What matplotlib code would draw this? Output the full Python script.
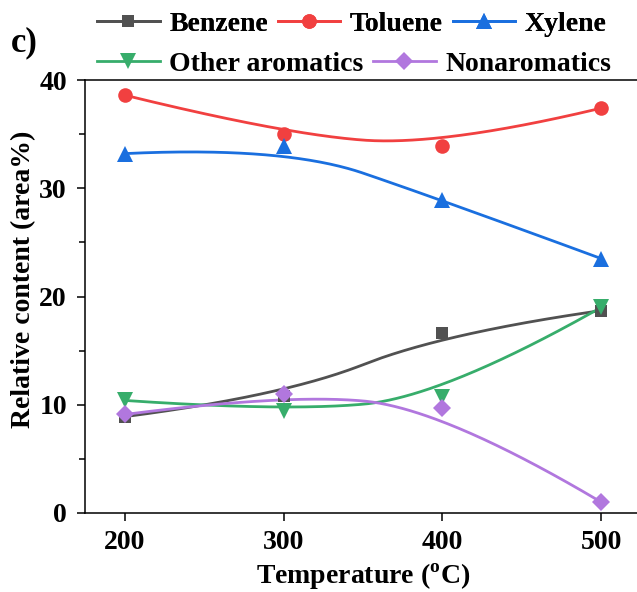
import numpy as np
import matplotlib
matplotlib.use('Agg')
import matplotlib.pyplot as plt
from matplotlib.ticker import MultipleLocator
from matplotlib.lines import Line2D

plt.rcParams['font.family'] = ['Liberation Serif', 'DejaVu Serif']
plt.rcParams['font.weight'] = 'bold'
plt.rcParams['mathtext.fontset'] = 'custom'
plt.rcParams['mathtext.rm'] = 'Liberation Serif:bold'
plt.rcParams['mathtext.bf'] = 'Liberation Serif:bold'

temperature = [200, 300, 400, 500]
benzene = [8.9, 10.8, 16.6, 18.7]
toluene = [38.6, 35.0, 33.9, 37.4]
xylene = [33.2, 33.9, 28.9, 23.5]
other_aromatics = [10.4, 9.4, 10.7, 19.0]
nonaromatics = [9.1, 11.0, 9.7, 1.0]

names = ['Benzene', 'Toluene', 'Xylene', 'Other aromatics', 'Nonaromatics']
series = [benzene, toluene, xylene, other_aromatics, nonaromatics]
colors = ['#515151', '#F14040', '#1A6FDF', '#37AD6B', '#B177DE']
markers = ['s', 'o', '^', 'v', 'D']
msizes = [9, 10.5, 11, 11, 9]


def bspline2(x, y, n=100):
    # clamped quadratic B-spline, data points used as control points
    p = np.column_stack([x, y]).astype(float)
    m = len(p)
    t = np.linspace(0, 1, n)[:, None]
    out = []
    for i in range(m - 2):
        a = p[0] if i == 0 else (p[i] + p[i + 1]) / 2
        b = p[i + 1]
        c = p[-1] if i == m - 3 else (p[i + 1] + p[i + 2]) / 2
        out.append((1 - t) ** 2 * a + 2 * t * (1 - t) * b + t ** 2 * c)
    out = np.vstack(out)
    return out[:, 0], out[:, 1]


fig = plt.figure(figsize=(6.37, 5.92), dpi=100)
ax = fig.add_axes([85 / 637, 79 / 592, 556 / 637, 433 / 592])

for vals, c, mk, ms in zip(series, colors, markers, msizes):
    sx, sy = bspline2(temperature, vals)
    ax.plot(sx, sy, color=c, lw=2.0, zorder=2)
    ax.plot(temperature, vals, ls='none', marker=mk, ms=ms, color=c,
            markeredgewidth=0, zorder=3)

ax.set_xlim(175, 525)
ax.set_ylim(0, 40)
ax.set_xticks(temperature)
ax.yaxis.set_major_locator(MultipleLocator(10))
ax.yaxis.set_minor_locator(MultipleLocator(5))
ax.tick_params(which='major', direction='out', length=6, width=1.1,
               labelsize=20)
ax.tick_params(axis='x', which='major', pad=6)
ax.tick_params(axis='y', which='major', pad=7)
ax.tick_params(which='minor', direction='out', length=4, width=1.1)
ax.tick_params(axis='x', which='minor', length=0)
for s in ax.spines.values():
    s.set_linewidth(1.1)

ax.set_xlabel(r'Temperature ($^{\mathbf{o}}$C)', fontsize=20, fontweight='bold',
              labelpad=5)
ax.set_ylabel('Relative content (area%)', fontsize=20, fontweight='bold')
ax.yaxis.set_label_coords(-0.088, 0.54)

handles = [Line2D([], [], color=c, lw=2.0, marker=mk, ms=ms, markeredgewidth=0)
           for c, mk, ms in zip(colors, markers, msizes)]
leg_kw = dict(frameon=False, handlelength=2.25, handletextpad=0.35,
              columnspacing=0.35, borderpad=0, borderaxespad=0, numpoints=1,
              loc='center left', prop={'weight': 'bold', 'size': 20})
leg1 = fig.legend(handles[:3], names[:3], ncol=3,
                  bbox_to_anchor=(97 / 637, 1 - 24 / 592), **leg_kw)
fig.add_artist(leg1)
fig.legend(handles[3:], names[3:], ncol=2,
           bbox_to_anchor=(97 / 637, 1 - 64 / 592), **leg_kw)

fig.text(11 / 637, 1 - 43 / 592, 'c)', fontsize=25, fontweight='bold',
         va='center', ha='left')

fig.savefig('out.png', dpi=100)
